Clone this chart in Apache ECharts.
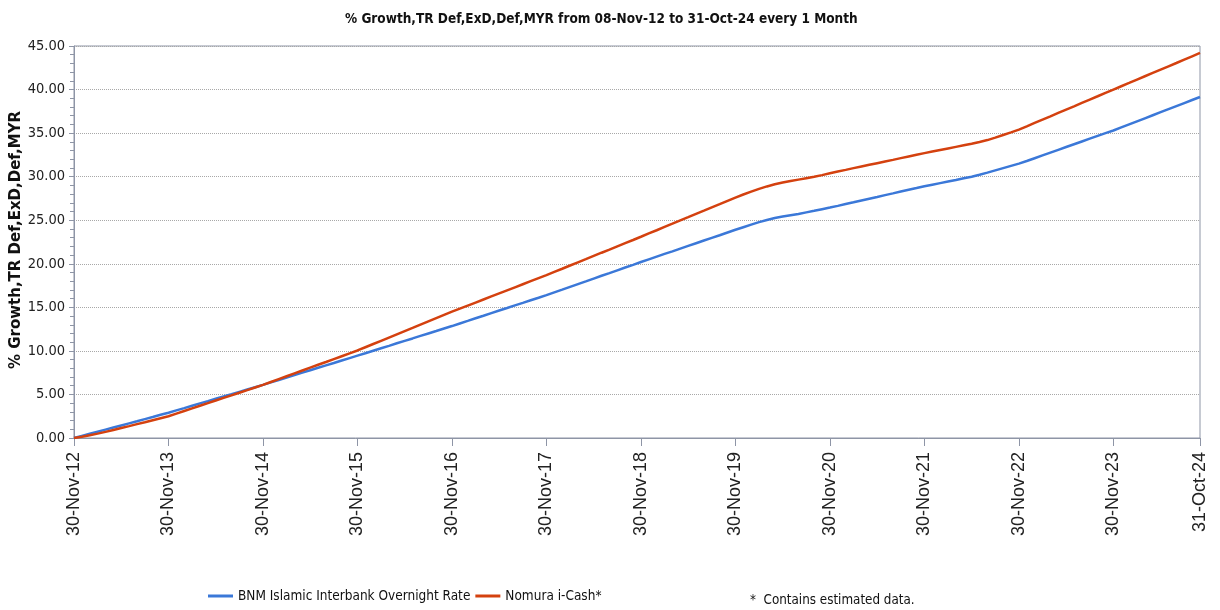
<!DOCTYPE html>
<html>
<head>
<meta charset="utf-8">
<script src="https://cdn.jsdelivr.net/npm/echarts@6/dist/echarts.min.js"></script>
<style>
html,body{margin:0;padding:0;background:#fff;}
#chart{width:1220px;height:610px;}
</style>
</head>
<body>
<div id="chart"></div>
<script>
// Category labels: month-ends from 30-Nov-12 to 31-Oct-24
const monthNames = ["Jan","Feb","Mar","Apr","May","Jun","Jul","Aug","Sep","Oct","Nov","Dec"];
const categories = [];
for (let i = 0; i < 144; i++) {
  const m = (10 + i) % 12;
  const y = 2012 + Math.floor((10 + i) / 12);
  const d = new Date(Date.UTC(y, m + 1, 0)).getUTCDate();
  categories.push(String(d).padStart(2, "0") + "-" + monthNames[m] + "-" + String(y % 100).padStart(2, "0"));
}

const titleText = "% Growth,TR Def,ExD,Def,MYR from 08-Nov-12 to 31-Oct-24 every 1 Month";
const yAxisName = "% Growth,TR Def,ExD,Def,MYR";
const seriesNames = ["BNM Islamic Interbank Overnight Rate", "Nomura i-Cash*"];
const noteText = "*  Contains estimated data.";

const bnm = [
  0, 0.24, 0.48, 0.72, 0.96, 1.2, 1.44, 1.68, 1.92, 2.17, 2.41, 2.66, 2.9,
  3.17, 3.43, 3.70, 3.97, 4.23, 4.50, 4.77, 5.03, 5.30, 5.57, 5.83, 6.10,
  6.38, 6.66, 6.94, 7.22, 7.50, 7.78, 8.06, 8.34, 8.61, 8.89, 9.17, 9.45,
  9.73, 10.02, 10.30, 10.58, 10.87, 11.15, 11.43, 11.72, 12.00, 12.28, 12.57, 12.85,
  13.15, 13.44, 13.74, 14.03, 14.33, 14.63, 14.92, 15.22, 15.51, 15.81, 16.10, 16.40,
  16.72, 17.03, 17.35, 17.67, 17.98, 18.30, 18.62, 18.93, 19.25, 19.57, 19.88, 20.20,
  20.51, 20.82, 21.13, 21.43, 21.74, 22.05, 22.36, 22.67, 22.98, 23.28, 23.59, 23.90,
  24.20, 24.50, 24.78, 25.03, 25.25, 25.42, 25.57, 25.72, 25.90, 26.08, 26.27, 26.45,
  26.65, 26.86, 27.06, 27.27, 27.47, 27.67, 27.88, 28.08, 28.29, 28.49, 28.69, 28.90,
  29.08, 29.26, 29.44, 29.62, 29.81, 30.00, 30.22, 30.46, 30.72, 30.98, 31.24, 31.50,
  31.80, 32.12, 32.44, 32.76, 33.08, 33.40, 33.72, 34.04, 34.36, 34.68, 35.00, 35.30,
  35.65, 36.00, 36.35, 36.70, 37.05, 37.40, 37.75, 38.10, 38.45, 38.80, 39.15
];

const nomura = [
  0, 0.15, 0.32, 0.5, 0.7, 0.92, 1.14, 1.36, 1.59, 1.81, 2.04, 2.27, 2.5,
  2.8, 3.1, 3.4, 3.7, 4.0, 4.3, 4.6, 4.9, 5.2, 5.5, 5.8, 6.1,
  6.43, 6.76, 7.09, 7.42, 7.75, 8.08, 8.41, 8.73, 9.06, 9.39, 9.72, 10.05,
  10.42, 10.79, 11.16, 11.53, 11.90, 12.27, 12.64, 13.02, 13.39, 13.76, 14.13, 14.50,
  14.85, 15.20, 15.55, 15.90, 16.25, 16.60, 16.95, 17.30, 17.65, 18.00, 18.35, 18.70,
  19.07, 19.43, 19.80, 20.17, 20.53, 20.90, 21.27, 21.63, 22.00, 22.37, 22.73, 23.10,
  23.48, 23.85, 24.23, 24.60, 24.98, 25.35, 25.73, 26.10, 26.48, 26.85, 27.23, 27.60,
  27.95, 28.28, 28.60, 28.88, 29.12, 29.32, 29.50, 29.66, 29.82, 29.98, 30.18, 30.40,
  30.59, 30.78, 30.98, 31.17, 31.36, 31.55, 31.74, 31.93, 32.13, 32.32, 32.51, 32.70,
  32.88, 33.06, 33.24, 33.42, 33.60, 33.78, 33.98, 34.20, 34.48, 34.78, 35.08, 35.40,
  35.78, 36.17, 36.55, 36.93, 37.32, 37.70, 38.08, 38.47, 38.85, 39.23, 39.62, 40.00,
  40.38, 40.76, 41.15, 41.53, 41.91, 42.29, 42.67, 43.05, 43.44, 43.82, 44.20
];

const colors = ["#3b78d8", "#d4410f"];
const FONT = '"DejaVu Sans Condensed", "DejaVu Sans", sans-serif';
const FONT_WIDE = '"DejaVu Sans", sans-serif';
const FONT_ARIAL = '"Liberation Sans", Arial, sans-serif';
const axisColor = "#8e95a6";

function showIdx(i) { return i % 12 === 0 || i === categories.length - 1; }

const chart = echarts.init(document.getElementById("chart"));
chart.setOption({
  animation: false,
  backgroundColor: "#ffffff",
  title: {
    text: titleText,
    left: 340,
    top: 7,
    textStyle: { fontFamily: FONT, fontSize: 13.5, fontWeight: "bold", color: "#111" }
  },
  legend: {
    bottom: 2,
    left: 203,
    itemWidth: 25,
    itemHeight: 3,
    itemGap: 5,
    icon: "rect",
    textStyle: { fontFamily: FONT, fontSize: 13.5, color: "#111" },
    data: seriesNames
  },
  graphic: [{
    type: "text",
    left: 750,
    bottom: 3,
    style: { text: noteText, font: '13.3px ' + FONT, fill: "#111" }
  }, {
    type: "text",
    x: 16,
    y: 240,
    rotation: Math.PI / 2,
    style: {
      text: yAxisName,
      font: 'bold 15px ' + FONT_WIDE,
      fill: "#111",
      align: "center",
      verticalAlign: "middle"
    }
  }],
  grid: {
    left: 74, right: 20, top: 46, bottom: 172,
    outerBoundsMode: "none",
    containLabel: false,
    show: true, borderColor: axisColor, borderWidth: 1
  },
  xAxis: {
    type: "category",
    data: categories,
    boundaryGap: false,
    axisLine: { lineStyle: { color: axisColor, width: 1 } },
    axisTick: { interval: function (i) { return showIdx(i); }, length: 8, lineStyle: { color: axisColor } },
    axisLabel: {
      interval: function (i) { return showIdx(i); },
      rotate: 90,
      margin: 14,
      fontFamily: FONT_ARIAL, fontSize: 18, color: "#222"
    },
    splitLine: { show: false }
  },
  yAxis: {
    type: "value",
    min: 0, max: 45, interval: 5,
    axisLine: { show: true, lineStyle: { color: axisColor } },
    axisTick: { show: true, length: 5, lineStyle: { color: axisColor } },
    minorTick: { show: true, splitNumber: 5, length: 4, lineStyle: { color: axisColor } },
    axisLabel: {
      formatter: function (v) { return v.toFixed(2); },
      margin: 9,
      fontFamily: FONT, fontSize: 14.5, color: "#222"
    },
    splitLine: { show: true, lineStyle: { color: "#a8a8a8", type: "dotted", width: 1 } }
  },
  series: [
    { name: seriesNames[0], type: "line", data: bnm, showSymbol: false, symbol: "none",
      lineStyle: { color: colors[0], width: 2.5 }, itemStyle: { color: colors[0] } },
    { name: seriesNames[1], type: "line", data: nomura, showSymbol: false, symbol: "none",
      lineStyle: { color: colors[1], width: 2.5 }, itemStyle: { color: colors[1] } }
  ]
});
</script>
</body>
</html>
